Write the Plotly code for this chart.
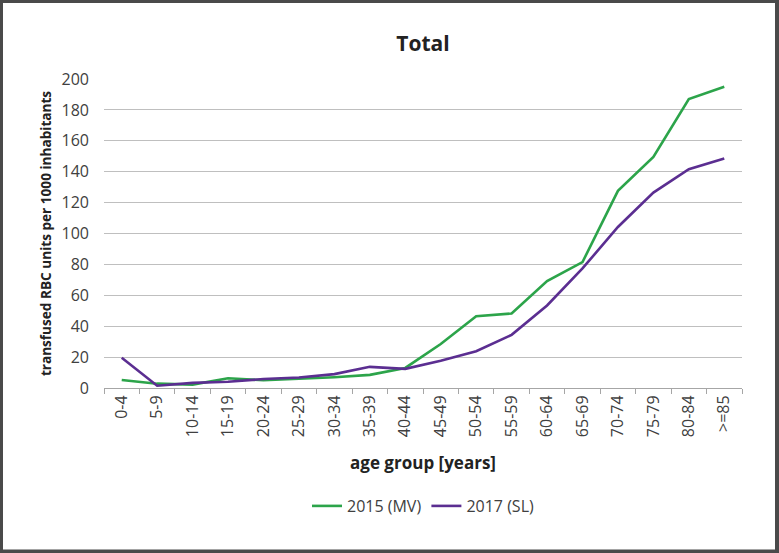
import plotly.graph_objects as go

categories = ["0-4", "5-9", "10-14", "15-19", "20-24", "25-29", "30-34", "35-39", "40-44",
              "45-49", "50-54", "55-59", "60-64", "65-69", "70-74", "75-79", "80-84", ">=85"]
y2015 = [5.2, 2.8, 2.2, 6.3, 5.0, 5.9, 7.0, 8.5, 13.0, 28.5, 46.5, 48.2, 69.2, 81.5, 127.6, 149.6, 187.0, 195.0]
y2017 = [19.6, 1.5, 3.3, 4.0, 5.8, 6.8, 9.0, 13.7, 12.4, 17.7, 23.8, 34.4, 53.4, 77.4, 104.2, 126.5, 141.6, 148.5]
series_names = ["2015 (MV)", "2017 (SL)"]
yticks = [0, 20, 40, 60, 80, 100, 120, 140, 160, 180, 200]

W, H = 779, 553
L, R, T, B = 104, 37, 79, 165
pw, ph = W - L - R, H - T - B

def px(x):
    return (x - L) / pw

def py(y):
    return (H - B - y) / ph

font = "Open Sans"
fig = go.Figure()
fig.add_trace(go.Scatter(x=categories, y=y2015, mode="lines", name=series_names[0],
                         line=dict(color="#2ca44a", width=2.6)))
fig.add_trace(go.Scatter(x=categories, y=y2017, mode="lines", name=series_names[1],
                         line=dict(color="#5b2e91", width=2.6)))

fig.update_layout(
    width=W, height=H,
    margin=dict(l=L, r=R, t=T, b=B, autoexpand=False),
    paper_bgcolor="white", plot_bgcolor="white",
    font=dict(family=font, color="#404040", size=15),
    title=dict(text="<b>Total</b>", x=0.5, xanchor="center", xref="paper",
               y=1 - 44 / H, yanchor="middle", font=dict(size=21, color="#222222")),
    showlegend=True,
    legend=dict(orientation="h", x=0.5, xanchor="center", y=py(506), yanchor="middle",
                font=dict(size=16, color="#404040"), itemwidth=30, traceorder="normal"),
    xaxis=dict(type="category", range=[-0.5, 17.5], showgrid=False, showline=True,
               linecolor="#a6a6a6", linewidth=1, ticks="outside", tickson="boundaries",
               ticklen=5, tickcolor="#a6a6a6", tickangle=-90, tickfont=dict(size=16),
               title=dict(text="<b>age group [years]</b>", font=dict(size=17, color="#222222"),
                          standoff=20),
               fixedrange=True),
    yaxis=dict(range=[0, 200], tickvals=yticks, showgrid=True, gridcolor="#bfbfbf",
               gridwidth=1, showline=False, zeroline=False, tickfont=dict(size=16),
               ticks="", ticklabelstandoff=14,
               title=dict(text="<b>transfused RBC units per 1000 inhabitants</b>",
                          font=dict(size=13.6, color="#222222"), standoff=6)),
)

border_color = "#4a4a4a"
# frame edges as filled bands (pixel boxes converted to paper coords)
bands = [
    (0, 0, 779, 3),
    (0, 549.5, 779, 553),
    (0, 0, 3, 553),
    (775, 0, 779, 553),
]
for x0, y0, x1, y1 in bands:
    fig.add_shape(type="rect", xref="paper", yref="paper",
                  x0=px(x0), y0=py(y1), x1=px(x1), y1=py(y0),
                  line=dict(width=0), fillcolor=border_color, layer="above")

fig.write_html("out.html", config={"displayModeBar": False},
               post_script="document.body.style.margin='0';document.body.style.overflow='hidden';")
